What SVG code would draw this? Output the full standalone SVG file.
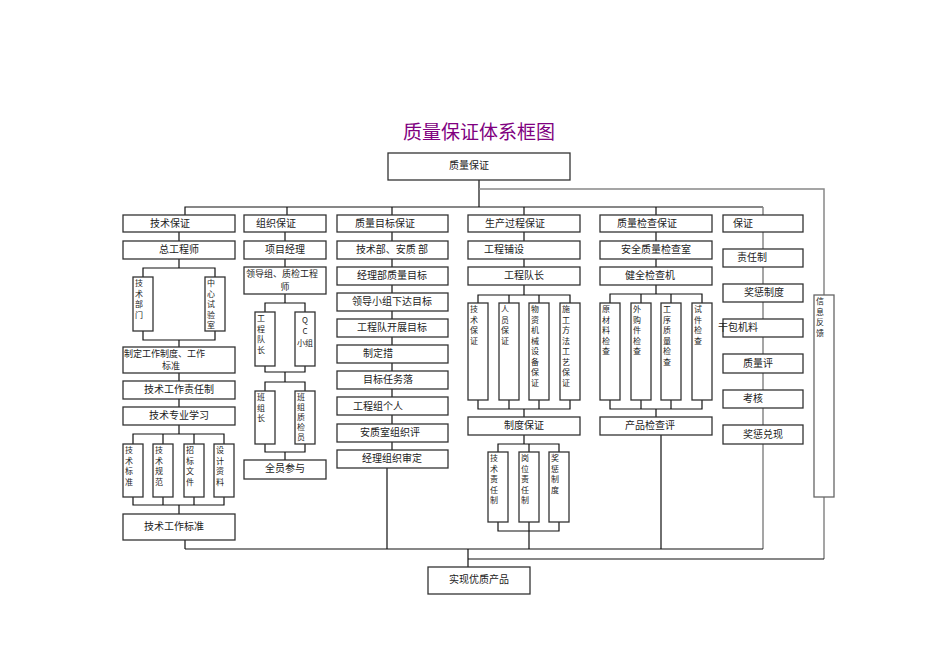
<svg xmlns="http://www.w3.org/2000/svg" width="950" height="672" viewBox="0 0 950 672">
<style>
rect{fill:#fff;stroke:#333;stroke-width:1.3}
text{font-family:"Noto Sans CJK SC","Liberation Serif",serif;font-size:10px;fill:#222}
.c{text-anchor:middle}
.s{font-size:9px}
.v{font-size:8px}
#connectors path{fill:none;stroke:#111;stroke-width:1.2}
#connectors path.g{stroke:#888;stroke-width:1.5}
</style>
<rect width="950" height="672" style="stroke:none"/>
<text x="479" y="139" class="c" style="font-size:19px;fill:#800080">质量保证体系框图</text>
<g id="connectors">
<path d="M479 180V207M185 215V207H763M287 207V215M392 207V215M524 207V215M656 207V215"/>
<path class="g" d="M479 189H824V295M824 497V559M763 207V549"/>
<path d="M179 232V241M179 259V268M143 277V268H215V277M143 331V340H215V331M179 340V347M179 373V381M179 399V407M179 425V434M133 444V434H224V444M163 434V444M194 434V444M133 497V505H224V497M163 497V505M194 497V505M179 505V514M185 540V549"/>
<path d="M285 232V241M285 259V267M285 294V303M265 312V303H305V312M265 366V372H305V366M285 372V382M265 391V382H305V391M265 444V452H305V444M285 452V460"/>
<path d="M392 232V468M387 468V549"/>
<path d="M524 232V241M524 259V267M524 285V295M478 303V295H570V303M509 295V303M539 295V303M478 400V409H570V400M509 400V409M539 400V409M524 409V417M524 435V444M498 452V444H559V452M529 444V452M498 522V531H559V522M529 522V549"/>
<path d="M656 232V241M656 259V267M656 285V294M610 303V294H702V303M641 294V303M671 294V303M610 400V409H702V400M641 400V409M671 400V409M656 409V417M661 435V549"/>
<path d="M185 549H763M468 559H824M468 549V567"/>
</g>
<g id="top"><rect x="388" y="153" width="182" height="27"/><text x="469" y="169" class="c">质量保证</text></g>
<g id="col1">
<rect x="123" y="215" width="112" height="17"/><text x="170" y="227" class="c">技术保证</text>
<rect x="123" y="241" width="112" height="18"/><text x="179" y="253" class="c">总工程师</text>
<rect x="133" y="277" width="20" height="54"/><text class="v" x="135" y="286"><tspan x="135">技</tspan><tspan x="135" dy="10.5">术</tspan><tspan x="135" dy="10.5">部</tspan><tspan x="135" dy="10.5">门</tspan></text>
<rect x="205" y="277" width="20" height="54"/><text class="v" x="207" y="286"><tspan x="207">中</tspan><tspan x="207" dy="10.5">心</tspan><tspan x="207" dy="10.5">试</tspan><tspan x="207" dy="10.5">验</tspan><tspan x="207" dy="10.5">室</tspan></text>
<rect x="123" y="347" width="112" height="26"/><text class="s" x="124" y="357">制定工作制度、工作</text><text class="s" x="171" y="369" text-anchor="middle">标准</text>
<rect x="123" y="381" width="112" height="18"/><text x="179" y="393" class="c">技术工作责任制</text>
<rect x="123" y="407" width="112" height="18"/><text x="179" y="419" class="c">技术专业学习</text>
<rect x="123" y="444" width="20" height="53"/><text class="v" x="125" y="453"><tspan x="125">技</tspan><tspan x="125" dy="10.5">术</tspan><tspan x="125" dy="10.5">标</tspan><tspan x="125" dy="10.5">准</tspan></text>
<rect x="153" y="444" width="20" height="53"/><text class="v" x="155" y="453"><tspan x="155">技</tspan><tspan x="155" dy="10.5">术</tspan><tspan x="155" dy="10.5">规</tspan><tspan x="155" dy="10.5">范</tspan></text>
<rect x="184" y="444" width="20" height="53"/><text class="v" x="186" y="453"><tspan x="186">招</tspan><tspan x="186" dy="10.5">标</tspan><tspan x="186" dy="10.5">文</tspan><tspan x="186" dy="10.5">件</tspan></text>
<rect x="214" y="444" width="20" height="53"/><text class="v" x="216" y="453"><tspan x="216">设</tspan><tspan x="216" dy="10.5">计</tspan><tspan x="216" dy="10.5">资</tspan><tspan x="216" dy="10.5">料</tspan></text>
<rect x="123" y="514" width="112" height="26"/><text x="174" y="530" class="c">技术工作标准</text>
</g>
<g id="col2">
<rect x="244" y="215" width="82" height="17"/><text x="276" y="227" class="c">组织保证</text>
<rect x="244" y="241" width="82" height="18"/><text x="285" y="253" class="c">项目经理</text>
<rect x="244" y="267" width="82" height="27"/><text class="s" x="246" y="277">领导组、质检工程</text><text class="s" x="285" y="290" text-anchor="middle">师</text>
<rect x="255" y="312" width="20" height="54"/><text class="v" x="257" y="321"><tspan x="257">工</tspan><tspan x="257" dy="10.5">程</tspan><tspan x="257" dy="10.5">队</tspan><tspan x="257" dy="10.5">长</tspan></text>
<rect x="295" y="312" width="20" height="54"/><text class="v c" x="305" y="323"><tspan x="305">Q</tspan><tspan x="305" dy="11">C</tspan><tspan x="305" dy="12">小组</tspan></text>
<rect x="255" y="391" width="20" height="53"/><text class="v" x="257" y="400"><tspan x="257">班</tspan><tspan x="257" dy="10.5">组</tspan><tspan x="257" dy="10.5">长</tspan></text>
<rect x="295" y="391" width="20" height="53"/><text class="v" x="297" y="400"><tspan x="297">班</tspan><tspan x="297" dy="10">组</tspan><tspan x="297" dy="10">质</tspan><tspan x="297" dy="10">检</tspan><tspan x="297" dy="10">员</tspan></text>
<rect x="244" y="460" width="82" height="19"/><text x="285" y="472" class="c">全员参与</text>
</g>
<g id="col3">
<rect x="337" y="215" width="111" height="17"/><text x="385" y="227" class="c">质量目标保证</text>
<rect x="337" y="241" width="111" height="18"/><text x="392" y="253" class="c">技术部、安质 部</text>
<rect x="337" y="267" width="111" height="18"/><text x="392" y="279" class="c">经理部质量目标</text>
<rect x="337" y="293" width="111" height="18"/><text x="392" y="305" class="c">领导小组下达目标</text>
<rect x="337" y="319" width="111" height="18"/><text x="392" y="331" class="c">工程队开展目标</text>
<rect x="337" y="345" width="111" height="18"/><text x="378" y="357" class="c">制定措</text>
<rect x="337" y="371" width="111" height="18"/><text x="388" y="383" class="c">目标任务落</text>
<rect x="337" y="397" width="111" height="18"/><text x="378" y="410" class="c">工程组个人</text>
<rect x="337" y="424" width="111" height="18"/><text x="390" y="436" class="c">安质室组织评</text>
<rect x="337" y="450" width="111" height="18"/><text x="392" y="462" class="c">经理组织审定</text>
</g>
<g id="col4">
<rect x="468" y="215" width="112" height="17"/><text x="515" y="227" class="c">生产过程保证</text>
<rect x="468" y="241" width="112" height="18"/><text x="504" y="253" class="c">工程铺设</text>
<rect x="468" y="267" width="112" height="18"/><text x="524" y="279" class="c">工程队长</text>
<rect x="468" y="303" width="20" height="97"/><text class="v" x="470" y="312"><tspan x="470">技</tspan><tspan x="470" dy="10.5">术</tspan><tspan x="470" dy="10.5">保</tspan><tspan x="470" dy="10.5">证</tspan></text>
<rect x="499" y="303" width="20" height="97"/><text class="v" x="501" y="312"><tspan x="501">人</tspan><tspan x="501" dy="10.5">员</tspan><tspan x="501" dy="10.5">保</tspan><tspan x="501" dy="10.5">证</tspan></text>
<rect x="529" y="303" width="20" height="97"/><text class="v" x="531" y="312"><tspan x="531">物</tspan><tspan x="531" dy="10.5">资</tspan><tspan x="531" dy="10.5">机</tspan><tspan x="531" dy="10.5">械</tspan><tspan x="531" dy="10.5">设</tspan><tspan x="531" dy="10.5">备</tspan><tspan x="531" dy="10.5">保</tspan><tspan x="531" dy="10.5">证</tspan></text>
<rect x="560" y="303" width="20" height="97"/><text class="v" x="562" y="312"><tspan x="562">施</tspan><tspan x="562" dy="10.5">工</tspan><tspan x="562" dy="10.5">方</tspan><tspan x="562" dy="10.5">法</tspan><tspan x="562" dy="10.5">工</tspan><tspan x="562" dy="10.5">艺</tspan><tspan x="562" dy="10.5">保</tspan><tspan x="562" dy="10.5">证</tspan></text>
<rect x="468" y="417" width="112" height="18"/><text x="524" y="429" class="c">制度保证</text>
<rect x="488" y="452" width="20" height="70"/><text class="v" x="490" y="461"><tspan x="490">技</tspan><tspan x="490" dy="10.5">术</tspan><tspan x="490" dy="10.5">责</tspan><tspan x="490" dy="10.5">任</tspan><tspan x="490" dy="10.5">制</tspan></text>
<rect x="519" y="452" width="20" height="70"/><text class="v" x="521" y="461"><tspan x="521">岗</tspan><tspan x="521" dy="10.5">位</tspan><tspan x="521" dy="10.5">责</tspan><tspan x="521" dy="10.5">任</tspan><tspan x="521" dy="10.5">制</tspan></text>
<rect x="549" y="452" width="20" height="70"/><text class="v" x="551" y="461"><tspan x="551">奖</tspan><tspan x="551" dy="10.5">惩</tspan><tspan x="551" dy="10.5">制</tspan><tspan x="551" dy="10.5">度</tspan></text>
</g>
<g id="col5">
<rect x="600" y="215" width="112" height="17"/><text x="647" y="227" class="c">质量检查保证</text>
<rect x="600" y="241" width="112" height="18"/><text x="656" y="253" class="c">安全质量检查室</text>
<rect x="600" y="267" width="112" height="18"/><text x="650" y="279" class="c">健全检查机</text>
<rect x="600" y="303" width="20" height="97"/><text class="v" x="602" y="312"><tspan x="602">原</tspan><tspan x="602" dy="10.5">材</tspan><tspan x="602" dy="10.5">料</tspan><tspan x="602" dy="10.5">检</tspan><tspan x="602" dy="10.5">查</tspan></text>
<rect x="631" y="303" width="20" height="97"/><text class="v" x="633" y="312"><tspan x="633">外</tspan><tspan x="633" dy="10.5">购</tspan><tspan x="633" dy="10.5">件</tspan><tspan x="633" dy="10.5">检</tspan><tspan x="633" dy="10.5">查</tspan></text>
<rect x="661" y="303" width="20" height="97"/><text class="v" x="663" y="312"><tspan x="663">工</tspan><tspan x="663" dy="10.5">序</tspan><tspan x="663" dy="10.5">质</tspan><tspan x="663" dy="10.5">量</tspan><tspan x="663" dy="10.5">检</tspan><tspan x="663" dy="10.5">查</tspan></text>
<rect x="692" y="303" width="20" height="97"/><text class="v" x="694" y="312"><tspan x="694">试</tspan><tspan x="694" dy="10.5">件</tspan><tspan x="694" dy="10.5">检</tspan><tspan x="694" dy="10.5">查</tspan></text>
<rect x="600" y="417" width="112" height="18"/><text x="650" y="429" class="c">产品检查评</text>
</g>
<g id="col6">
<rect x="723" y="215" width="80" height="17"/><text x="733" y="227">保证</text>
<rect x="723" y="249" width="80" height="18"/><text x="752" y="261" class="c">责任制</text>
<rect x="723" y="284" width="80" height="18"/><text x="764" y="296" class="c">奖惩制度</text>
<rect x="723" y="319" width="80" height="18"/><text x="718" y="331">干包机料</text>
<rect x="723" y="354" width="80" height="19"/><text x="758" y="367" class="c">质量评</text>
<rect x="723" y="390" width="80" height="18"/><text x="753" y="402" class="c">考核</text>
<rect x="723" y="425" width="80" height="19"/><text x="763" y="438" class="c">奖惩兑现</text>
</g>
<g id="feedback"><rect x="814" y="295" width="20" height="202" style="stroke:#666"/><text class="v" x="816" y="304"><tspan x="816">信</tspan><tspan x="816" dy="10.5">息</tspan><tspan x="816" dy="10.5">反</tspan><tspan x="816" dy="10.5">馈</tspan></text></g>
<g id="bottom"><rect x="428" y="567" width="102" height="27"/><text x="479" y="583" class="c">实现优质产品</text></g>
</svg>
